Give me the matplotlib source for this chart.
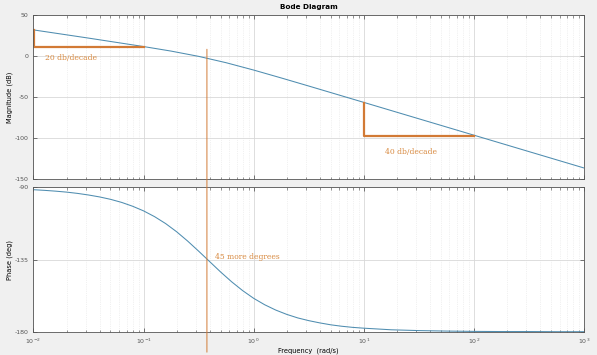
import numpy as np
import matplotlib
matplotlib.use('Agg')
import matplotlib.pyplot as plt
from matplotlib.patches import ConnectionPatch
from matplotlib.transforms import blended_transform_factory

# values (frequency in rad/s)
mag_freq = [0.01, 0.03162, 0.1, 0.1778, 0.3162, 0.5623, 1.0, 1.778, 3.162,
            10.0, 31.62, 100.0, 316.2, 1000.0]
mag_db = [31.8, 21.8, 11.5, 5.96, -0.46, -8.22, -17.17, -26.78, -36.64,
          -56.58, -76.58, -96.57, -116.58, -136.57]

phase_freq = [0.01, 0.012589, 0.015849, 0.019953, 0.025119, 0.031623,
              0.039811, 0.050119, 0.063096, 0.079433, 0.1, 0.12589, 0.15849,
              0.19953, 0.25119, 0.31623, 0.39811, 0.50119, 0.63096, 0.79433,
              1.0, 1.2589, 1.5849, 1.9953, 2.5119, 3.1623, 3.9811, 5.0119,
              6.3096, 7.9433, 10.0, 17.78, 31.62, 56.23, 100.0, 177.8, 316.2,
              562.3, 1000.0]
phase_deg = [-91.5, -91.9, -92.4, -93.0, -93.8, -94.8, -96.0, -97.5, -99.4,
             -101.8, -104.7, -108.3, -112.6, -117.7, -123.5, -129.8, -136.3,
             -142.8, -148.9, -154.4, -159.2, -163.2, -166.5, -169.2, -171.4,
             -173.1, -174.5, -175.7, -176.6, -177.3, -177.8, -178.8, -179.3,
             -179.6, -179.8, -179.9, -179.9, -180.0, -180.0]

# slope helpers drawn on the magnitude plot
slope1_x = [0.0102, 0.0102, 0.1]
slope1_y = [31.5, 11.4, 11.4]
slope2_x = [10.0, 10.0, 100.0]
slope2_y = [-57.3, -97.0, -97.0]
w_cross = 0.376

curve_col = '#4f8db0'
mark_col = '#d27a35'
text_col = '#d8893f'

plt.rcParams['font.family'] = ['DejaVu Sans']
plt.rcParams['axes.unicode_minus'] = False
fig = plt.figure(figsize=(5.97, 3.55), dpi=100)
fig.patch.set_facecolor('#f0f0f0')

ax_mag = fig.add_axes([0.0561, 0.4958, 0.9221, 0.4620])
ax_ph = fig.add_axes([0.0561, 0.0656, 0.9221, 0.4068])

for ax in (ax_mag, ax_ph):
    ax.set_xscale('log')
    ax.set_xlim(1e-2, 1e3)
    ax.set_facecolor('white')
    ax.grid(True, which='major', color='#d8d8d8', linewidth=0.6)
    ax.grid(True, which='minor', color='#e4e4e4', linewidth=0.5, linestyle=':')
    ax.tick_params(which='both', direction='in', top=True, right=True,
                   labelsize=4.5, labelcolor='#555555', color='#444444')
    ax.tick_params(which='major', length=3, width=0.5)
    ax.tick_params(which='minor', length=1.8, width=0.4)
    for s in ax.spines.values():
        s.set_color('#555555')
        s.set_linewidth(0.6)

ax_mag.plot(mag_freq, mag_db, color=curve_col, linewidth=0.75)
ax_mag.set_ylim(-150, 50)
ax_mag.set_yticks([-150, -100, -50, 0, 50])
ax_mag.tick_params(labelbottom=False)
ax_mag.set_ylabel('Magnitude (dB)', fontsize=4.8, labelpad=1)
ax_mag.set_title('Bode Diagram', fontsize=5.2, fontweight='bold', pad=4)

ax_mag.plot(slope1_x, slope1_y, color=mark_col, linewidth=1.6)
ax_mag.plot(slope2_x, slope2_y, color=mark_col, linewidth=1.6)
ax_mag.text(0.0127, -2.4, '20 db/decade', fontsize=5.5, color=text_col,
            family='DejaVu Serif', va='center', ha='left')
ax_mag.text(15.5, -116.7, '40 db/decade', fontsize=5.5, color=text_col,
            family='DejaVu Serif', va='center', ha='left')

ax_ph.plot(phase_freq, phase_deg, color=curve_col, linewidth=0.75)
ax_ph.set_ylim(-180, -90)
ax_ph.set_yticks([-180, -135, -90])
ax_ph.set_ylabel('Phase (deg)', fontsize=4.8, labelpad=1)
ax_ph.set_xlabel('Frequency  (rad/s)', fontsize=4.8, labelpad=1)
ax_ph.text(0.447, -133.6, '45 more degrees', fontsize=5.5, color=text_col,
           family='DejaVu Serif', va='center', ha='left')

# vertical marker through both plots down to the bottom of the figure
trans_b = blended_transform_factory(ax_ph.transData, fig.transFigure)
con = ConnectionPatch(xyA=(w_cross, 8.2), coordsA=ax_mag.transData,
                      xyB=(w_cross, 0.008), coordsB=trans_b,
                      color=mark_col, linewidth=0.7)
fig.add_artist(con)

fig.savefig('out.png', dpi=100, facecolor=fig.get_facecolor())
